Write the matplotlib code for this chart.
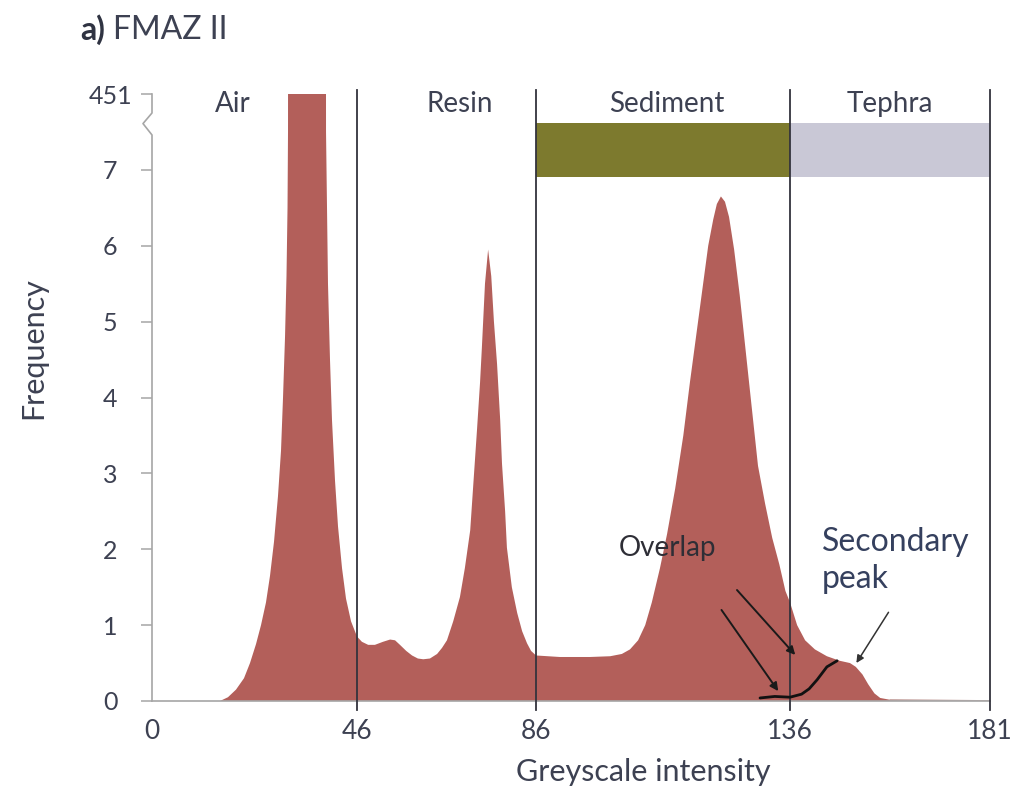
import numpy as np
import matplotlib
matplotlib.use("Agg")
import matplotlib.pyplot as plt
from matplotlib.transforms import blended_transform_factory

# ---------------- data ----------------
intensity = [0, 14.0, 15.26, 17.05, 18.85, 20.64, 21.99, 23.34, 24.46, 25.58, 26.48, 27.38, 28.27,
             28.95, 29.40, 29.85, 30.18, 30.41, 30.52,
             34.6,
             39.05, 39.27, 39.49, 39.94, 40.39, 41.07, 41.74, 42.64, 43.53, 44.66, 46.0,
             47.1, 48.5, 50.0, 51.8, 53.4, 54.5, 55.6, 57.0, 58.3, 59.6, 60.8, 62.3, 63.9, 65.0,
             66.1, 67.5, 69.0, 70.1, 71.3, 72.1, 72.8, 73.5, 73.9, 74.6, 75.3,
             76.0, 76.6, 77.3, 78.0, 78.4, 79.1, 79.5, 80.6, 81.8, 82.9, 84.0, 84.9, 86.0,
             90.7, 96.6, 100.6, 102.9, 104.5, 106.1, 107.5, 108.8, 110.4, 111.8, 113.4, 115.0,
             116.3, 117.7, 118.9, 119.9, 120.9, 121.6, 122.4,
             123.2, 124.0, 125.0, 126.1, 127.3, 128.5, 129.7, 131.1, 132.5, 133.9, 135.1, 136.0,
             137.6, 139.4, 141.6, 144.3, 147.2, 149.5, 150.8, 152.3, 153.6, 155.0, 156.3, 158.6,
             181.0]
frequency = [0, 0, 0.0, 0.05, 0.15, 0.3, 0.5, 0.75, 1.0, 1.3, 1.65, 2.1, 2.7,
             3.3, 4.0, 4.8, 5.6, 6.5, 7.5,
             451,
             7.5, 6.5, 5.5, 4.5, 3.7, 2.9, 2.3, 1.75, 1.35, 1.05, 0.85,
             0.78, 0.74, 0.74, 0.78, 0.81, 0.80, 0.74, 0.66, 0.60, 0.56, 0.55, 0.56, 0.62, 0.70,
             0.80, 1.05, 1.37, 1.75, 2.25, 2.95, 3.56, 4.2, 4.65, 5.5, 5.95,
             5.6, 5.0, 4.44, 3.7, 3.13, 2.5, 2.02, 1.5, 1.16, 0.92, 0.76, 0.66, 0.60,
             0.58, 0.58, 0.59, 0.62, 0.68, 0.80, 1.0, 1.3, 1.75, 2.2, 2.8, 3.5,
             4.2, 4.9, 5.5, 6.0, 6.35, 6.55, 6.65,
             6.58, 6.38, 5.95, 5.35, 4.6, 3.85, 3.1, 2.6, 2.15, 1.8, 1.45, 1.3,
             1.0, 0.8, 0.68, 0.59, 0.53, 0.50, 0.45, 0.35, 0.22, 0.10, 0.04, 0.015,
             0.0]

x_ticks = [0, 46, 86, 136, 181]
x_tick_labels = ["0", "46", "86", "136", "181"]
y_ticks = [0, 1, 2, 3, 4, 5, 6, 7, 8]
y_tick_labels = ["0", "1", "2", "3", "4", "5", "6", "7", "451"]

boundaries = [46, 86, 136, 181]
region_names = ["Air", "Resin", "Sediment", "Tephra"]
region_label_x = [18.2, 69.0, 111.8, 158.5]

class_bands = [(86, 136), (136, 181)]
class_colors = ["#7D7A2E", "#C9C8D6"]

# hand-drawn secondary peak trace
trace_x = [130.1, 133.0, 136.0, 138.6, 140.3, 142.1, 144.3, 146.6]
trace_y = [0.04, 0.06, 0.05, 0.09, 0.16, 0.28, 0.45, 0.53]

# ---------------- axis scale (tick label spacing of original) ----------------
XD = np.array([0, 46, 86, 136, 181], float)
XP = np.array([0, 205, 384, 638, 838], float)


def _pw(x, a, b):
    x = np.asarray(x, float)
    y = np.interp(x, a, b)
    lo = b[0] + (x - a[0]) * (b[1] - b[0]) / (a[1] - a[0])
    hi = b[-1] + (x - a[-1]) * (b[-1] - b[-2]) / (a[-1] - a[-2])
    return np.where(x < a[0], lo, np.where(x > a[-1], hi, y))


def fwd(x):
    return _pw(x, XD, XP)


def inv(x):
    return _pw(x, XP, XD)


plt.rcParams['font.family'] = ['Lato', 'DejaVu Sans']
TXT = "#3d4152"
GRID = "#a6a6a6"

fig = plt.figure(figsize=(10.26, 7.89), dpi=100)
ax = fig.add_axes([152 / 1026, 88 / 789, 838 / 1026, 607 / 789])
ax.set_xscale('function', functions=(fwd, inv))
ax.set_xlim(0, 181)
ax.set_ylim(0, 8)

ax.fill_between(intensity, frequency, 0, color="#B35F5A", lw=0, zorder=2)
ax.plot([158.6, 181], [0.015, 0.0], color="#c9a9a6", lw=1.2, zorder=2)

# class bands
for (a, b), c in zip(class_bands, class_colors):
    ax.fill_between([a, b], 6.91, 7.62, color=c, lw=0, zorder=3)

# boundary lines
for bx in boundaries:
    ax.plot([bx, bx], [-0.12, 8.05], color="#33333d", lw=1.3, zorder=4, clip_on=False)

# region names
for name, lx in zip(region_names, region_label_x):
    ax.text(lx, 7.87, name, ha='center', va='center', fontsize=20, color=TXT, zorder=5)

# spines and ticks
for s in ['top', 'right', 'left']:
    ax.spines[s].set_visible(False)
ax.spines['bottom'].set_color(GRID)
ax.spines['bottom'].set_linewidth(1.2)

ax.set_xticks(x_ticks)
ax.set_xticklabels(x_tick_labels)
ax.set_yticks(y_ticks)
ax.set_yticklabels(y_tick_labels)
ax.tick_params(axis='x', length=0, pad=13, labelsize=19, labelcolor=TXT)
ax.tick_params(axis='y', length=8, width=1.1, color=GRID, pad=22, labelsize=18, labelcolor=TXT)
for lab in ax.get_yticklabels():
    lab.set_horizontalalignment('center')
ax.minorticks_off()

# left spine with axis break
bt = blended_transform_factory(ax.transAxes, ax.transData)
dx = 9 / 838
ax.plot([0, 0, -dx, 0, 0], [0, 7.46, 7.61, 7.75, 8.0], color=GRID, lw=1.2,
        transform=bt, clip_on=False, zorder=1)

# annotations
ax.plot(trace_x, trace_y, color="#111111", lw=2.0, zorder=6, solid_capstyle='round')
arrow_kw = dict(arrowstyle='-|>', color="#1a1a1a", lw=1.4, mutation_scale=12)
ax.annotate("", xy=(137.6, 0.58), xytext=(125.2, 1.49), arrowprops=arrow_kw, zorder=6)
ax.annotate("", xy=(134.0, 0.10), xytext=(122.2, 1.23), arrowprops=arrow_kw, zorder=6)
ax.annotate("", xy=(150.6, 0.47), xytext=(158.5, 1.20),
            arrowprops=dict(arrowstyle='-|>', color="#333333", lw=1.1, mutation_scale=11), zorder=6)
ax.text(102.3, 2.02, "Overlap", ha='left', va='center', fontsize=20, color="#2e2e36", zorder=6)
ax.text(143.2, 1.85, "Secondary\npeak", ha='left', va='center', fontsize=23,
        color="#35405e", linespacing=1.3, zorder=6)

ax.set_xlabel("Greyscale intensity", fontsize=22, color=TXT)
ax.xaxis.set_label_coords((643 - 152) / 838, (701 - 772) / 607)
ax.xaxis.label.set_va('center')
ax.set_ylabel("Frequency", fontsize=22, color=TXT)
ax.yaxis.set_label_coords((33 - 152) / 838, (701 - 348) / 607)
ax.yaxis.label.set_va('center')

fig.text(80 / 1026, 1 - 30 / 789, "a)", fontsize=23, fontweight='bold', color="#2f3342",
         ha='left', va='center')
fig.text(113 / 1026, 1 - 30 / 789, "FMAZ II", fontsize=23, color="#3d4152",
         ha='left', va='center')

fig.savefig("out.png", dpi=100, facecolor="white")
